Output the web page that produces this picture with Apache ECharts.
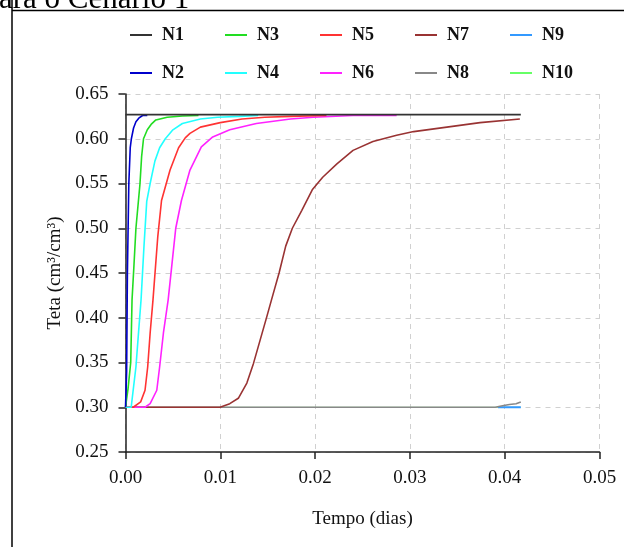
<!DOCTYPE html>
<html><head><meta charset="utf-8">
<script src="https://cdn.jsdelivr.net/npm/echarts@6/dist/echarts.min.js"></script>
<style>html,body{margin:0;padding:0;background:#fff}#c{width:624px;height:547px}</style>
</head><body><div id="c"></div>
<script>
const titleText = 'ara o Cenário 1';
const xTitle = 'Tempo (dias)';
const yTitle = 'Teta (cm³/cm³)';
const seriesNames = ['N1','N2','N3','N4','N5','N6','N7','N8','N9','N10'];
const seriesColors = ['#333333','#0000cc','#22dd22','#22ffff','#ff3333','#ff22ff','#993333','#888888','#3399ff','#66ff66'];
const legendRow1 = ['N1','N3','N5','N7','N9'];
const legendRow2 = ['N2','N4','N6','N8','N10'];

const N1 = [[0,0.627],[0.0417,0.627]];
const N2 = [[0,0.30],[0.00012,0.34],[0.0002,0.45],[0.00035,0.55],[0.0005,0.59],[0.00062,0.60],[0.00085,0.612],[0.0011,0.619],[0.0014,0.623],[0.0018,0.626],[0.0023,0.626]];
const N3 = [[0,0.30],[0.00016,0.30],[0.00026,0.32],[0.00055,0.35],[0.00069,0.42],[0.0009,0.46],[0.0011,0.50],[0.00153,0.55],[0.0017,0.58],[0.0019,0.60],[0.0023,0.61],[0.0027,0.616],[0.0032,0.621],[0.0044,0.624],[0.006,0.6255],[0.0077,0.626]];
const N4 = [[0,0.30],[0.0006,0.30],[0.00082,0.32],[0.0011,0.345],[0.00135,0.38],[0.00164,0.42],[0.00195,0.48],[0.00224,0.53],[0.0026,0.55],[0.0031,0.575],[0.0036,0.59],[0.0042,0.60],[0.005,0.61],[0.006,0.617],[0.0079,0.622],[0.0097,0.624],[0.012,0.625],[0.014,0.626]];
const N5 = [[0,0.30],[0.00082,0.30],[0.0016,0.306],[0.00206,0.319],[0.00234,0.345],[0.0026,0.383],[0.0029,0.42],[0.0034,0.49],[0.0038,0.531],[0.0047,0.565],[0.0056,0.59],[0.0063,0.601],[0.0068,0.606],[0.0079,0.613],[0.01,0.618],[0.0123,0.622],[0.0147,0.624],[0.0174,0.625],[0.0212,0.626]];
const N6 = [[0,0.30],[0.00206,0.30],[0.0026,0.304],[0.0033,0.319],[0.0036,0.345],[0.004,0.383],[0.0045,0.42],[0.0049,0.46],[0.0053,0.50],[0.0059,0.531],[0.0068,0.565],[0.008,0.591],[0.0092,0.602],[0.011,0.61],[0.0138,0.617],[0.0174,0.622],[0.0198,0.624],[0.024,0.626],[0.0286,0.626]];
const N7 = [[0,0.30],[0.00997,0.30],[0.011,0.304],[0.0119,0.31],[0.0128,0.327],[0.0135,0.349],[0.0142,0.375],[0.0149,0.401],[0.0154,0.42],[0.0162,0.45],[0.0169,0.48],[0.0176,0.50],[0.0186,0.52],[0.0197,0.543],[0.0208,0.557],[0.0223,0.572],[0.024,0.587],[0.0261,0.597],[0.0286,0.604],[0.0304,0.608],[0.0339,0.613],[0.0374,0.618],[0.0416,0.622]];
const N8 = [[0,0.30],[0.039,0.30],[0.0399,0.302],[0.0405,0.303],[0.0412,0.304],[0.0417,0.306]];
const N9 = [[0.0393,0.30],[0.0417,0.30]];
const N10 = [[0,0.30],[0.0417,0.30]];
const seriesData = [N1,N2,N3,N4,N5,N6,N7,N8,N9,N10];
const seriesWidths = [1.6,1.6,1.6,1.6,1.6,1.6,1.6,1.6,2,0.6];

const serif = '"Liberation Serif","Times New Roman",serif';
const chart = echarts.init(document.getElementById('c'), null, {renderer:'canvas'});

function legendCfg(data, top) {
  return {
    data: data, left: 130, top: top, padding: 0, orient: 'horizontal',
    icon: 'rect', itemWidth: 22, itemHeight: 2, itemGap: 41,
    textStyle: {fontFamily: serif, fontWeight: 'bold', fontSize: 18, color: '#111', padding: [0,0,0,5]},
    selectedMode: false
  };
}

chart.setOption({
  animation: false,
  backgroundColor: '#fff',
  graphic: [
    {type:'line', shape:{x1:12, y1:0, x2:12, y2:547}, style:{stroke:'#000', lineWidth:1.5}, silent:true},
    {type:'line', shape:{x1:12, y1:10.5, x2:624, y2:10.5}, style:{stroke:'#000', lineWidth:1.5}, silent:true},
    {type:'text', left:-1, top:-16, style:{text:titleText, font:'31px ' + serif, fill:'#000'}, silent:true}
  ],
  legend: [legendCfg(legendRow1, 26), legendCfg(legendRow2, 64)],
  grid: {left: 125.5, right: 24.5, top: 94, bottom: 95, containLabel: false},
  xAxis: {
    type: 'value', min: 0, max: 0.05, interval: 0.01,
    name: xTitle, nameLocation: 'middle', nameGap: 58,
    nameTextStyle: {fontFamily: serif, fontSize: 19, color: '#111'},
    axisLine: {show: true, onZero: false, lineStyle: {color: '#222', width: 1.5}},
    axisTick: {show: true, inside: false, length: 7, lineStyle: {color: '#222', width: 1.5}},
    axisLabel: {fontFamily: serif, fontSize: 19, color: '#111', margin: 17, formatter: v => v.toFixed(2)},
    splitLine: {show: true, lineStyle: {color: '#d0d0d0', type: [5,5], width: 1}}
  },
  yAxis: {
    type: 'value', min: 0.25, max: 0.65, interval: 0.05,
    name: yTitle, nameLocation: 'middle', nameGap: 54, nameRotate: 90,
    nameTextStyle: {fontFamily: serif, fontSize: 19, color: '#111'},
    axisLine: {show: true, onZero: false, lineStyle: {color: '#222', width: 1.5}},
    axisTick: {show: true, inside: false, length: 7, lineStyle: {color: '#222', width: 1.5}},
    axisLabel: {fontFamily: serif, fontSize: 19, color: '#111', margin: 17, formatter: v => v.toFixed(2)},
    splitLine: {show: true, lineStyle: {color: '#d0d0d0', type: [5,5], width: 1}}
  },
  series: seriesNames.map((n, i) => ({
    name: n, type: 'line', data: seriesData[i], showSymbol: false, symbol: 'none',
    z: 20 - i,
    color: seriesColors[i],
    lineStyle: {color: seriesColors[i], width: seriesWidths[i]},
    itemStyle: {color: seriesColors[i]}
  }))
});
</script></body></html>
